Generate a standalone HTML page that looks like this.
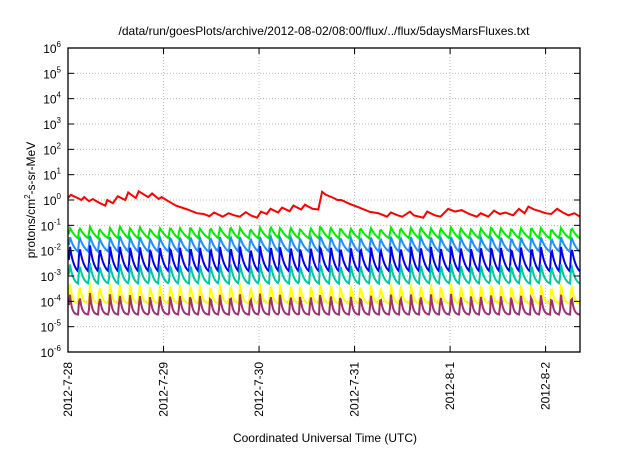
<!DOCTYPE html>
<html><head><meta charset="utf-8"><style>
body{margin:0;background:#fff;width:640px;height:448px;overflow:hidden}
svg{font-family:"Liberation Sans",sans-serif}
</style></head><body>
<svg id="chart" width="640" height="448" viewBox="0 0 640 448">
<text x="324" y="35" font-size="12" text-anchor="middle">/data/run/goesPlots/archive/2012-08-02/08:00/flux/../flux/5daysMarsFluxes.txt</text>
<g id="grid"></g><g id="series"></g><g id="axes"></g>
<text x="325" y="442" font-size="12" text-anchor="middle">Coordinated Universal Time (UTC)</text>
<text transform="translate(35,200) rotate(-90)" font-size="12" text-anchor="middle">protons/cm<tspan font-size="8" dy="-5">2</tspan><tspan dy="5">-s-sr-MeV</tspan></text>
</svg>
<script>
const xTickLabels=["2012-7-28","2012-7-29","2012-7-30","2012-7-31","2012-8-1","2012-8-2"];
const xTickDays=[0,1,2,3,4,5];
const yTickExps=[-6,-5,-4,-3,-2,-1,0,1,2,3,4,5,6];
const dayMax=5.36;
const redDays=[0,0.03,0.1,0.14,0.17,0.22,0.26,0.32,0.39,0.41,0.47,0.52,0.6,0.63,0.71,0.74,0.84,0.88,0.95,0.98,1.05,1.13,1.25,1.35,1.42,1.48,1.53,1.62,1.68,1.74,1.8,1.86,1.92,1.98,2.02,2.08,2.12,2.2,2.24,2.32,2.36,2.44,2.48,2.56,2.62,2.66,2.7,2.78,2.82,2.86,2.95,3.05,3.16,3.25,3.34,3.38,3.45,3.5,3.58,3.62,3.72,3.76,3.84,3.9,3.98,4.05,4.12,4.2,4.28,4.32,4.4,4.46,4.52,4.58,4.66,4.72,4.78,4.82,4.88,4.95,5.0,5.06,5.12,5.18,5.24,5.3,5.36];
const redVals=[1.2,1.6,1.2,1.0,1.3,0.9,1.1,0.8,0.6,1.0,0.75,1.4,1.0,2.0,1.2,2.2,1.3,1.8,1.1,1.3,0.9,0.6,0.42,0.3,0.28,0.23,0.32,0.22,0.3,0.25,0.22,0.33,0.24,0.2,0.35,0.28,0.45,0.32,0.5,0.36,0.6,0.42,0.65,0.45,0.42,2.1,1.6,1.2,1.0,1.0,0.7,0.5,0.34,0.3,0.22,0.32,0.25,0.22,0.35,0.25,0.2,0.35,0.25,0.22,0.45,0.35,0.4,0.28,0.22,0.3,0.22,0.38,0.28,0.32,0.25,0.45,0.3,0.55,0.42,0.35,0.3,0.28,0.45,0.32,0.25,0.3,0.22];
const peakDays=[0.02,0.12,0.23,0.33,0.44,0.54,0.65,0.75,0.86,0.96,1.07,1.17,1.28,1.38,1.49,1.59,1.7,1.8,1.91,2.01,2.12,2.22,2.33,2.43,2.54,2.64,2.75,2.85,2.96,3.06,3.17,3.27,3.38,3.48,3.59,3.69,3.8,3.9,4.01,4.11,4.22,4.32,4.43,4.53,4.64,4.74,4.85,4.95,5.06,5.16,5.27];
const cycleScale=[1,1,1.1,0.9,1,1.2,1,1.1,0.9,1,1.05,1,1.1,0.95,1,1,1.1,1,0.9,1,1.15,1,1.05,0.9,1,1.2,1.05,1,0.95,1,1,0.9,1.05,1,1,1.1,0.95,1,1.05,1,0.9,1,1.1,1,0.95,1,1.05,1,0.9,1,1];
const chanNames=["green","light-blue","blue","teal","yellow","purple"];
const chanColors=["#00ee00","#1e90ff","#0000ee","#00c8a0","#ffff00","#a0306e"];
const chanPeaks=[0.08,0.035,0.015,0.003,0.0005,0.0002];
const chanTroughs=[0.03,0.009,0.0015,0.0005,0.00008,0.00003];
const chanDecay=[0.9,0.6,0.45,0.35,0.25,0.2];

const L=68,R=580,T=48,B=352;
const NS="http://www.w3.org/2000/svg";
const xS=d=>L+d/dayMax*(R-L);
const yS=v=>B-(Math.log10(v)+6)/12*(B-T);
function mk(tag,attrs,parent){const e=document.createElementNS(NS,tag);for(const k in attrs)e.setAttribute(k,attrs[k]);parent.appendChild(e);return e;}
const grid=document.getElementById('grid'),axes=document.getElementById('axes'),ser=document.getElementById('series');
yTickExps.forEach(p=>{const y=yS(Math.pow(10,p));
 if(p>-6&&p<6){const g=mk('line',{x1:L,x2:R,y1:y,y2:y,stroke:'#bbb','stroke-dasharray':'1,2','stroke-width':1},grid);
 
 }
 const t1=mk('line',{x1:L,x2:L+6,y1:y,y2:y,stroke:'#000'},axes);
 
 
 const t2=mk('line',{x1:R-6,x2:R,y1:y,y2:y,stroke:'#000'},axes);
 
 
 const tx=mk('text',{x:L-7,y:y+5,'font-size':12,'text-anchor':'end'},axes);
 
 
 tx.innerHTML='10<tspan font-size="8" dy="-6">'+p+'</tspan>';
});
xTickDays.forEach((d,i)=>{const x=xS(d);
 if(d>0){const g=mk('line',{x1:x,x2:x,y1:T,y2:B,stroke:'#bbb','stroke-dasharray':'1,2'},grid);
 
 }
 const t1=mk('line',{x1:x,x2:x,y1:B,y2:B-6,stroke:'#000'},axes);
 
 
 const t2=mk('line',{x1:x,x2:x,y1:T,y2:T+6,stroke:'#000'},axes);
 
 
 const tx=mk('text',{transform:'translate('+(x+4)+','+(B+10)+') rotate(-90)','font-size':12,'text-anchor':'end'},axes);
 
 
 tx.textContent=xTickLabels[i];
});
const frame=mk('rect',{x:L,y:T,width:R-L,height:B-T,fill:'none',stroke:'#000','stroke-width':1.3},axes);


// channels
chanNames.forEach((nm,c)=>{
 const pts=[];
 for(let px=L;px<=R;px+=1){
  const d=(px-L)/(R-L)*dayMax;
  let k=-1;for(let i=0;i<peakDays.length;i++){if(peakDays[i]<=d)k=i;}
  const per=0.105;let lp,lt,ph,rising=false,lpNext;
  const lT=Math.log10(chanTroughs[c]);
  if(k<0){ph=(d-peakDays[0]+per)/per;k=0;}
  else ph=(d-peakDays[k])/per;
  lp=Math.log10(chanPeaks[c]*cycleScale[k]);
  const kn=Math.min(k+1,peakDays.length-1);
  lpNext=Math.log10(chanPeaks[c]*cycleScale[kn]);
  const nextGap=(k+1<peakDays.length?peakDays[k+1]-peakDays[k]:per);
  const f=(d-peakDays[k])/nextGap;
  let lv;
  const rise=0.12;
  if(d<peakDays[0]){lv=lT+(lp-lT)*0.5;}
  else if(f>1-rise){const base=lT+(lp-lT)*Math.exp(-(1-rise)/chanDecay[c]);lv=base+(lpNext-base)*((f-(1-rise))/rise);}
  else{const g=Math.exp(-f/chanDecay[c]);const g1=Math.exp(-(1-rise)/chanDecay[c]);lv=lT+(lp-lT)*((g-g1)/(1-g1))*1+ (lp-lT)*g1*0;}
  pts.push(px.toFixed(1)+','+yS(Math.pow(10,lv)).toFixed(1));
 }
 const pl=mk('polyline',{points:pts.join(' '),fill:'none',stroke:chanColors[c],'stroke-width':2},ser);
 
 
});
const rp=redDays.map((d,i)=>xS(d).toFixed(1)+','+yS(redVals[i]).toFixed(1)).join(' ');
const red=mk('polyline',{points:rp,fill:'none',stroke:'#ff0000','stroke-width':2},ser);


</script>
</body></html>
